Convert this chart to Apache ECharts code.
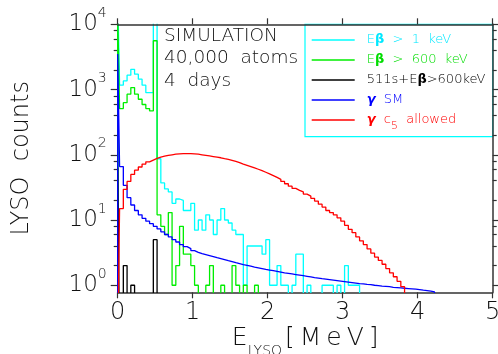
<!DOCTYPE html>
<html><head><meta charset="utf-8">
<script src="https://cdn.jsdelivr.net/npm/echarts@6/dist/echarts.min.js"></script>
<style>html,body{margin:0;padding:0;background:#fff}#c{width:498px;height:354px}</style>
</head><body><div id="c"></div>
<script>
// ---------------- data ----------------
const BIN_WIDTH = 0.05;           // MeV, bins centred on multiples of 0.05
const X_MIN = 0, X_MAX = 5;
const Y_MIN = 0.78, Y_MAX = 10000;
const FLOOR = 0.1;                // empty bins drawn below the axis floor
const xTicks = [0, 1, 2, 3, 4, 5];
const yMajorTicks = [1, 10, 100, 1000, 10000];
const yMinorTicks = [2, 4, 6, 8, 20, 40, 60, 80, 200, 400, 600, 800, 2000, 4000, 6000, 8000];
const seriesNames = ['Eβ > 1 keV', 'Eβ > 600 keV', '511s+Eβ>600keV', 'γ SM', 'γ c5 allowed'];
const noteLines = ['SIMULATION', '40,000  atoms', '4  days'];

const cyanCounts = [30000, 1165, 1356, 1660, 2040, 1720, 1440, 1165, 895, 895,
  30000, 87, 37, 30, 27, 18, 21, 20, 14, 14,
  18, 7, 10, 7, 12, 10, 6, 10, 15, 10,
  9, 7, 6, 6, 1, 4, 4, 4, 4, 3,
  5, 1, 1, 2, 1, 1, 0, 1, 3, 3,
  0, 1, 0, 0, 0, 1, 1, 1, 0, 1,
  0, 2, 1, 1, 1];
const greenCounts = [15000, 510, 630, 850, 1070, 850, 710, 590, 510, 470,
  5600, 12, 8, 6, 13, 1, 2, 8, 3, 3,
  2, 1, 0, 0, 1, 2, 0, 0, 1, 0,
  0, 2, 1, 0, 1, 0, 0, 1];
const blackCounts = [63, 0, 2, 0, 1, 0, 0, 0, 0, 0, 5];
const blueCounts = [3500, 66, 34, 22, 17, 14, 12, 10.6, 9.6, 8.8,
  8.0, 7.3, 6.6, 6.0, 5.5, 5.0, 4.6, 4.2, 3.9, 3.65,
  3.4, 3.2, 3.05, 2.95, 2.85, 2.75, 2.65, 2.56, 2.47, 2.38,
  2.3, 2.22, 2.15, 2.08, 2.02, 1.96, 1.9, 1.85, 1.8, 1.75,
  1.71, 1.67, 1.63, 1.59, 1.55, 1.52, 1.49, 1.46, 1.43, 1.40,
  1.37, 1.34, 1.31, 1.29, 1.26, 1.24, 1.22, 1.2, 1.18, 1.16,
  1.14, 1.12, 1.1, 1.08, 1.06, 1.05, 1.03, 1.02, 1.0, 0.99,
  0.97, 0.96, 0.95, 0.93, 0.92, 0.91, 0.9, 0.89, 0.88, 0.87,
  0.86, 0.84, 0.83, 0.81, 0.79];
const redCounts = [0, 15, 29.5, 39, 50, 58, 65, 72, 78, 83,
  88, 92, 95, 98, 100, 102, 103, 104, 104, 104,
  103, 102, 100, 98, 96, 94, 92, 90, 87, 85,
  82, 79, 76, 72, 69, 66, 63, 60, 57, 54,
  51, 48, 45, 42, 39, 36, 33, 30.5, 28.5, 27,
  25, 23.3, 21.5, 19.5, 17.5, 15.8, 14, 13, 12, 10.8,
  9.6, 8.3, 7.2, 6.4, 5.5, 4.8, 4.2, 3.6, 3.1, 2.7,
  2.4, 2.1, 1.8, 1.55, 1.35, 1.15, 0.95];

// ---------------- build step outlines ----------------
function histPoints(counts) {
  const pts = [];
  for (let k = 0; k < counts.length; k++) {
    const lo = Math.max(X_MIN, k * BIN_WIDTH - BIN_WIDTH / 2);
    const v = counts[k] > 0 ? counts[k] : FLOOR;
    if (k === 0) pts.push([lo, FLOOR]);
    pts.push([lo, v]);
  }
  const hi = (counts.length - 0.5) * BIN_WIDTH;
  const last = counts[counts.length - 1] > 0 ? counts[counts.length - 1] : FLOOR;
  pts.push([hi, last]);
  pts.push([hi, FLOOR]);
  return pts;
}

const FONT = 'DejaVu Sans';
const FW = 200;
const AX = '#333';
const colors = ['#00ffff', '#00ee00', '#000000', '#0000ff', '#ff0000'];
const allCounts = [cyanCounts, greenCounts, blackCounts, blueCounts, redCounts];

const series = seriesNames.map((name, i) => ({
  name, type: 'line', step: 'end', data: histPoints(allCounts[i]),
  xAxisIndex: 0, yAxisIndex: 0, showSymbol: false, symbol: 'none',
  clip: true, animation: false,
  lineStyle: { color: colors[i], width: 1.3 }, itemStyle: { color: colors[i] }
}));

function tok(color) {
  return { color, fontFamily: FONT, fontSize: 13, lineHeight: 14, fontWeight: FW };
}
const rich = {
  c: tok('#00e8ff'), cb: Object.assign(tok('#00e8ff'), { fontWeight: 'bold' }),
  g: tok('#00dd00'), gb: Object.assign(tok('#00dd00'), { fontWeight: 'bold' }),
  k: tok('#000'), kb: Object.assign(tok('#000'), { fontWeight: 'bold' }),
  bl: tok('#0000ff'), blg: Object.assign(tok('#0000ff'), { fontWeight: 'bold', fontStyle: 'italic' }),
  r: tok('#ff0000'), rg: Object.assign(tok('#ff0000'), { fontWeight: 'bold', fontStyle: 'italic' }),
  rs: Object.assign(tok('#ff0000'), { fontSize: 11, height: 1, padding: [13, 0, 0, 0] })
};
const legendText = {
  'Eβ > 1 keV': '{c|E}{cb|β}{c|  >  1  keV}',
  'Eβ > 600 keV': '{g|E}{gb|β}{g|  >  600  keV}',
  '511s+Eβ>600keV': '{k|511s+E}{kb|β}{k|>600keV}',
  'γ SM': '{blg|γ}{bl|  SM}',
  'γ c5 allowed': '{rg|γ}{r|  c}{rs|5}{r|  allowed}'
};

function yAxisDef(pos, ticks, len, showLine, extra) {
  return Object.assign({
    type: 'log', logBase: 10, min: Y_MIN, max: Y_MAX, position: pos, offset: 0,
    gridIndex: 0, z: pos === 'right' ? 10 : 0,
    axisLine: { show: showLine, lineStyle: { color: AX, width: 1.5 } },
    axisTick: { show: true, inside: false, length: len, customValues: ticks, lineStyle: { color: AX, width: 1.2 } },
    axisLabel: { show: false },
    splitLine: { show: false }, minorTick: { show: false }
  }, extra || {});
}

const TS = '\u2009';
const option = {
  animation: false,
  backgroundColor: '#fff',
  grid: { left: 117.7, right: 5.3, top: 24.3, bottom: 61.7, containLabel: false, outerBoundsMode: 'none' },
  legend: {
    data: seriesNames, orient: 'vertical', left: 305, top: 24.3,
    padding: [8.7, 3, 4.7, 6.7], itemGap: 6, itemWidth: 43, itemHeight: 1.5,
    icon: 'rect', selectedMode: false, z: 4,
    backgroundColor: '#fff', borderColor: '#00ffff', borderWidth: 1.2,
    formatter: name => legendText[name],
    textStyle: { fontFamily: FONT, fontSize: 13, fontWeight: FW, lineHeight: 14, width: 123, padding: [0, 0, 0, 7], rich }
  },
  xAxis: [{
    type: 'value', min: X_MIN, max: X_MAX, interval: 1, position: 'bottom', gridIndex: 0,
    axisLine: { show: true, onZero: false, lineStyle: { color: AX, width: 1.5 } },
    axisTick: { show: true, length: 6, customValues: xTicks, lineStyle: { color: AX, width: 1.2 } },
    axisLabel: { customValues: xTicks, margin: 8, fontFamily: FONT, fontWeight: FW, fontSize: 24, color: '#111', showMaxLabel: true, showMinLabel: true },
    splitLine: { show: false },
    name: '{e|E}{s|LYSO}{e|[' + TS + 'M' + TS + 'e' + TS + 'V' + TS + ']}',
    nameLocation: 'middle', nameGap: 34, nameMoveOverlap: false,
    nameTextStyle: { rich: {
      e: { fontFamily: FONT, fontWeight: FW, fontSize: 25, lineHeight: 25, color: '#111' },
      s: { fontFamily: FONT, fontWeight: FW, fontSize: 14, lineHeight: 25, color: '#111', padding: [26, 3, 0, 0] }
    } }
  }, {
    type: 'value', min: X_MIN, max: X_MAX, interval: 1, position: 'top', gridIndex: 0, z: 10,
    axisLine: { show: true, onZero: false, lineStyle: { color: AX, width: 1.5 } },
    axisTick: { show: true, length: 6, customValues: xTicks, lineStyle: { color: AX, width: 1.2 } },
    axisLabel: { show: false }, splitLine: { show: false }
  }],
  yAxis: [
    yAxisDef('left', yMajorTicks, 7, true, {
      axisLabel: {
        show: true, customValues: yMajorTicks, margin: 11,
        formatter: v => '{b|10}{s|' + Math.round(Math.log10(v)) + '}',
        rich: {
          b: { fontFamily: FONT, fontWeight: FW, fontSize: 23, lineHeight: 24, color: '#111' },
          s: { fontFamily: FONT, fontWeight: FW, fontSize: 14, lineHeight: 24, color: '#111', padding: [0, 0, 22, 0] }
        }
      },
      name: 'LYSO  counts', nameLocation: 'middle', nameRotate: 90, nameGap: 84, nameMoveOverlap: false,
      nameTextStyle: { fontFamily: FONT, fontWeight: FW, fontSize: 24, color: '#111' }
    }),
    yAxisDef('left', yMinorTicks, 4, false),
    yAxisDef('right', yMajorTicks, 7, true),
    yAxisDef('right', yMinorTicks, 4, false)
  ],
  graphic: [{
    type: 'text', left: 164, top: 24.5, z: 20,
    style: { text: noteLines.join('\n'), fontFamily: FONT, fontWeight: FW, fontSize: 18.5, lineHeight: 22.5, fill: '#111' }
  }],
  series
};

const chart = echarts.init(document.getElementById('c'), null, { renderer: 'canvas' });
chart.setOption(option);
</script></body></html>
